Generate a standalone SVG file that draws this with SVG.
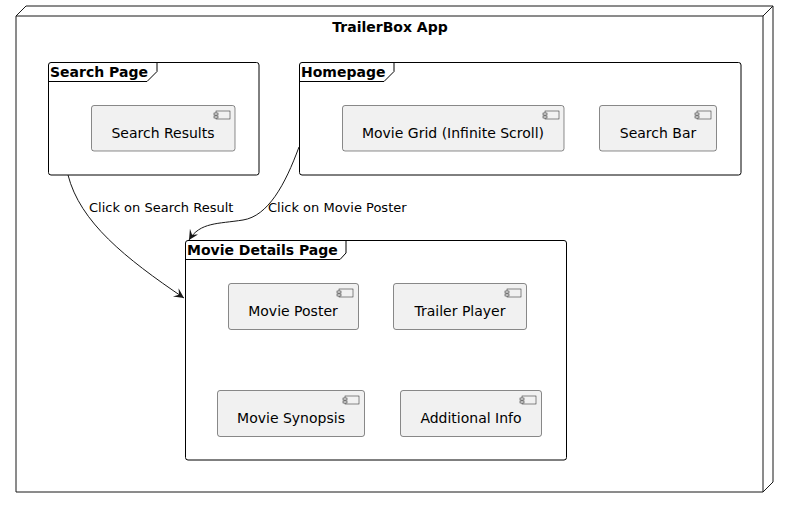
<svg xmlns="http://www.w3.org/2000/svg" width="789" height="508" viewBox="0 0 789 508">
<style>
text{font-family:"DejaVu Sans",sans-serif;fill:#000}
.t{font-size:14px;font-weight:bold}
.c{font-size:14px;text-anchor:middle}
.l{font-size:13px}
.frame{fill:none;stroke:#000;stroke-width:1}
.comp{fill:#F1F1F1;stroke:#181818;stroke-width:0.5}
.ic{fill:#F1F1F1;stroke:#181818;stroke-width:0.5}
.edge{fill:none;stroke:#181818;stroke-width:1}
</style>
<defs>
<marker id="ah" markerWidth="12" markerHeight="12" viewBox="0 0 12 12" refX="10" refY="5" orient="auto" markerUnits="userSpaceOnUse">
<path d="M0,0 L10,5 L0,10 L4,5 Z" fill="#181818"/>
</marker>
<g id="icon">
<rect x="2" y="0" width="14" height="8" class="ic"/>
<rect x="0" y="2" width="4" height="2" class="ic"/>
<rect x="0" y="5" width="4" height="2" class="ic"/>
</g>
</defs>
<rect width="789" height="508" fill="#fff"/>
<g id="app">
<path d="M16,16 L26,6 L773,6 L773,482 L763,492 L16,492 Z" fill="#fff" stroke="#181818" stroke-width="1"/>
<path d="M16,16 L763,16 L773,6 M763,16 L763,492" fill="none" stroke="#181818" stroke-width="1"/>
<text x="390" y="32" class="t" text-anchor="middle">TrailerBox App</text>
</g>
<g id="searchPage">
<rect x="48.5" y="62.5" width="210.5" height="112.5" rx="2.5" class="frame"/>
<path d="M48.5,81.5 L147,81.5 L157,71.5 L157,62.5" class="frame"/>
<text x="50" y="77" class="t">Search Page</text>
</g>
<g id="searchResults">
<rect x="91.5" y="105.5" width="143.5" height="45.5" rx="2.5" class="comp"/>
<use href="#icon" x="214" y="111"/>
<text x="163" y="138" class="c">Search Results</text>
</g>
<g id="homepage">
<rect x="299.5" y="62.5" width="441.5" height="112.5" rx="2.5" class="frame"/>
<path d="M299.5,81.5 L384,81.5 L394,71.5 L394,62.5" class="frame"/>
<text x="301" y="77" class="t">Homepage</text>
</g>
<g id="movieGrid">
<rect x="342.5" y="105.5" width="221.5" height="45.5" rx="2.5" class="comp"/>
<use href="#icon" x="543" y="111"/>
<text x="453" y="138" class="c">Movie Grid (Infinite Scroll)</text>
</g>
<g id="searchBar">
<rect x="599.5" y="105.5" width="117" height="45.5" rx="2.5" class="comp"/>
<use href="#icon" x="695" y="111"/>
<text x="658" y="138" class="c">Search Bar</text>
</g>
<g id="movieDetails">
<rect x="185.5" y="240.5" width="381" height="219.5" rx="2.5" class="frame"/>
<path d="M185.5,259.5 L340,259.5 L346,253 L346,240.5" class="frame"/>
<text x="187" y="255" class="t">Movie Details Page</text>
</g>
<g id="moviePoster">
<rect x="228.5" y="283.5" width="130" height="46" rx="2.5" class="comp"/>
<use href="#icon" x="337" y="289"/>
<text x="293" y="316" class="c">Movie Poster</text>
</g>
<g id="trailerPlayer">
<rect x="393.5" y="283.5" width="133" height="46" rx="2.5" class="comp"/>
<use href="#icon" x="505" y="289"/>
<text x="460" y="316" class="c">Trailer Player</text>
</g>
<g id="movieSynopsis">
<rect x="217.5" y="390.5" width="147" height="46" rx="2.5" class="comp"/>
<use href="#icon" x="343" y="396"/>
<text x="291" y="423" class="c">Movie Synopsis</text>
</g>
<g id="additionalInfo">
<rect x="400.5" y="390.5" width="141" height="46" rx="2.5" class="comp"/>
<use href="#icon" x="520" y="396"/>
<text x="471" y="423" class="c">Additional Info</text>
</g>
<g id="connectors">
<path d="M68,175 C80,222 125,258 184,298" class="edge" marker-end="url(#ah)"/>
<path d="M299,147 C285,185 268,216 243,220 C218,224 200,222 189,240" class="edge" marker-end="url(#ah)"/>
<text x="89" y="212" class="l">Click on Search Result</text>
<text x="268" y="212" class="l">Click on Movie Poster</text>
</g>
</svg>
